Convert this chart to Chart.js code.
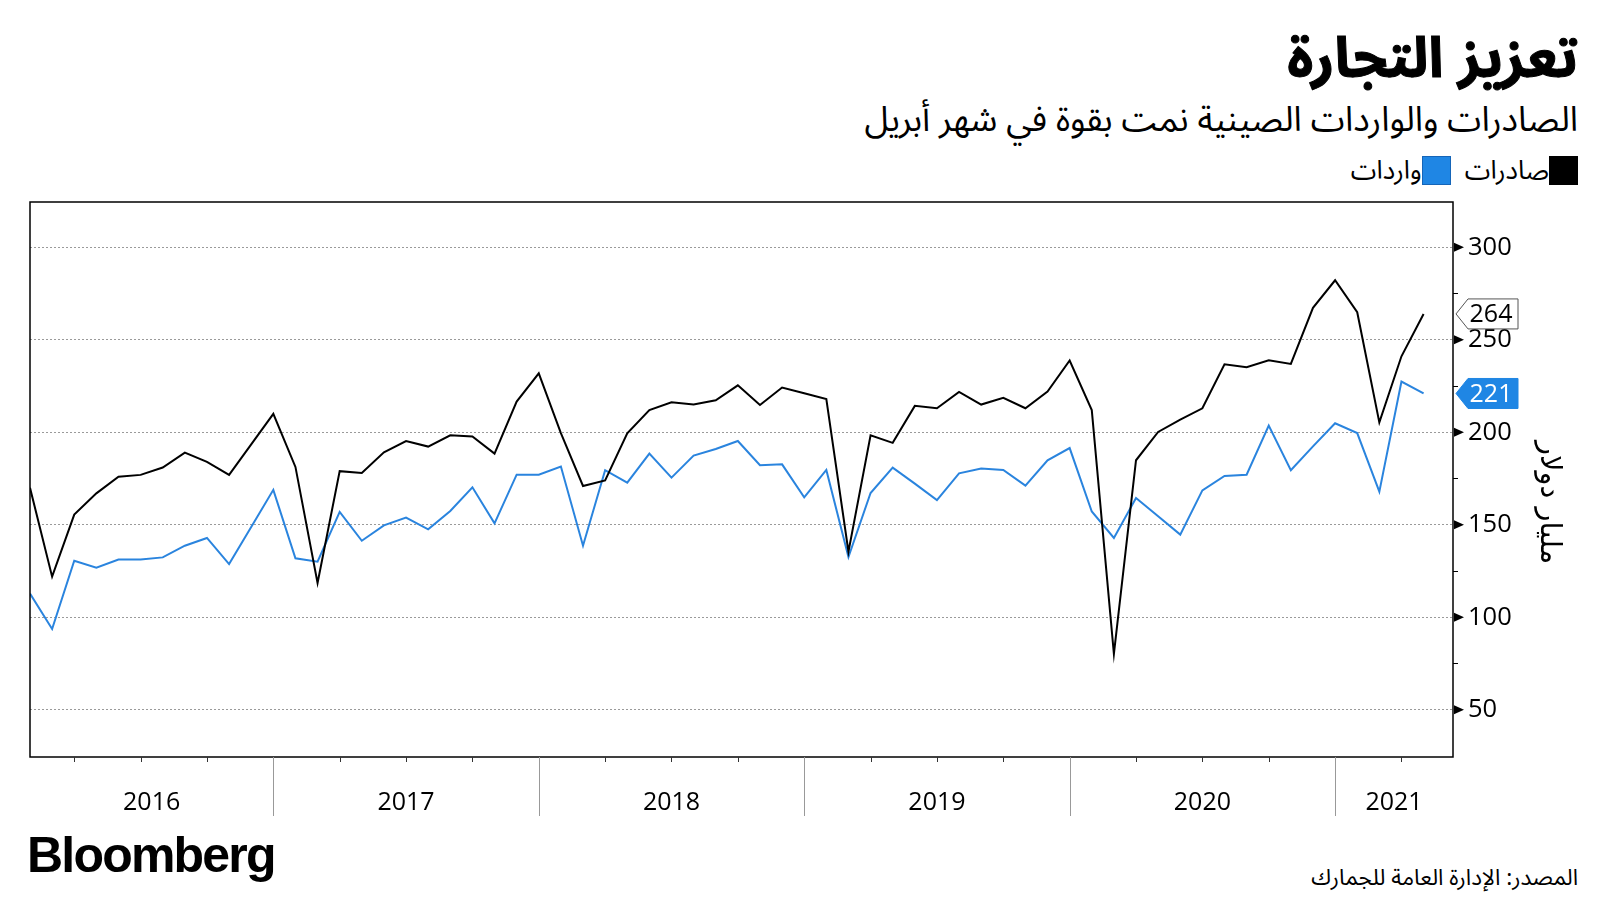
<!DOCTYPE html>
<html lang="ar">
<head>
<meta charset="utf-8">
<title>تعزيز التجارة</title>
<script src="https://cdn.jsdelivr.net/npm/chart.js@4.4.0/dist/chart.umd.min.js"></script>
<style>
  html, body { margin: 0; padding: 0; background: #fff; width: 1600px; height: 900px; overflow: hidden; }
  body { position: relative; font-family: "Noto Sans Arabic", "DejaVu Sans", sans-serif; color: #000; }
  .title { position: absolute; right: 22px; top: 0px; font-size: 56px; font-weight: 700; direction: rtl; white-space: nowrap; -webkit-text-stroke: 1px #000; }
  .subtitle { position: absolute; right: 22px; top: 84px; font-size: 34.5px; direction: rtl; white-space: nowrap; }
  .legend { position: absolute; right: 22px; top: 143px; direction: rtl; display: flex; align-items: center; font-size: 26px; white-space: nowrap; }
  .legend .sw { display: inline-block; width: 29px; height: 29px; box-sizing: border-box; }
  .legend .item { display: flex; align-items: center; margin-left: 14px; }
  #wrap { position: absolute; left: 0; top: 172px; width: 1600px; height: 645px; }
  .logo { position: absolute; left: 27px; top: 826px; font-family: "Liberation Sans", Arial, sans-serif; font-weight: 700; font-size: 50px; letter-spacing: -1.8px; }
  .source { position: absolute; right: 22px; top: 854px; font-size: 22.5px; direction: rtl; white-space: nowrap; }
</style>
</head>
<body>
<div class="title">تعزيز التجارة</div>
<div class="subtitle">الصادرات والواردات الصينية نمت بقوة في شهر أبريل</div>
<div class="legend">
  <span class="item"><span class="sw" style="background:#000"></span><span>صادرات</span></span>
  <span class="item"><span class="sw" style="background:#1f86e4;border:1px solid #1565b8"></span><span>واردات</span></span>
</div>
<div id="wrap"><canvas id="chart"></canvas></div>
<div class="logo">Bloomberg</div>
<div class="source">المصدر: الإدارة العامة للجمارك</div>

<script>
// monthly data, Jan 2016 .. Apr 2021 (billion dollars)
const months = [];
for (let y = 2016; y <= 2021; y++) {
  for (let m = 1; m <= 12; m++) {
    if (y === 2021 && m > 4) break;
    months.push(y + "-" + String(m).padStart(2, "0"));
  }
}

const exportsData = [
  170, 122, 155.5, 167, 176, 177, 181, 189, 184, 177, 193.5, 210,
  181.3, 118.6, 179, 178, 189.2, 195.3, 192.3, 198.4, 197.8, 188.5, 216.6, 231.9,
  199.6, 171, 174, 199.5, 212, 216.2, 215, 217.3, 225.4, 214.8, 224.2, 221.1,
  218, 135.5, 198.4, 194.3, 214.3, 213, 221.8, 215, 218.6, 213, 222, 238.8,
  212, 80.2, 184.9, 200.2, 206.9, 213, 236.8, 235.2, 238.9, 237, 267.3, 282.2,
  264.9, 205.4, 241.1, 264
];

const importsData = [
  112.8, 93.7, 130.6, 126.8, 131.2, 131.2, 132.4, 138.7, 142.9, 128.8, 148.8, 168.9,
  131.9, 130.1, 157, 141.4, 149.7, 153.9, 147.6, 157.5, 170.3, 150.8, 177.1, 177.1,
  181.5, 138.7, 179.5, 172.8, 188.5, 175.5, 187.4, 191, 195.3, 182.2, 182.7, 164.9,
  179.7, 132.6, 167.2, 180.9, 172.3, 163.4, 177.8, 180.4, 179.7, 171.2, 184.9, 191.5,
  157.2, 142.9, 164.5, 154.6, 144.7, 168.6, 176.4, 177.1, 203.6, 179.5, 192.4, 204.9,
  199.6, 167.9, 227.4, 221
];

const yearLabels = ["2016", "2017", "2018", "2019", "2020", "2021"];
const yTicks = [50, 75, 100, 125, 150, 175, 200, 225, 250, 275, 300];
const yTitle = "مليار دولار";

const exportColor = "#000000";
const importColor = "#2a84de";
const labelBlue = "#1f86e4";

const xMax = months.length - 1 + 1.33;
const yMin = 24.5;
const yMax = 324.5;

// year label sits in the middle of the visible part of each year
const yearCenters = yearLabels.map((yr, k) => {
  const start = Math.max(0, 12 * k - 1);
  const end = Math.min(xMax, 12 * k + 11);
  return (start + end) / 2;
});

const toPoints = (arr) => arr.map((v, i) => ({ x: i, y: v }));

const decor = {
  id: "decor",
  afterDraw(chart) {
    const { ctx, chartArea: a, scales: { x, y } } = chart;
    ctx.save();

    // frame
    ctx.strokeStyle = "#000";
    ctx.lineWidth = 1.5;
    ctx.strokeRect(a.left, a.top, a.right - a.left, a.bottom - a.top);

    // quarter ticks and year dividers under the plot
    for (let i = 2; i < months.length; i += 3) {
      const px = Math.round(x.getPixelForValue(i)) + 0.5;
      ctx.beginPath();
      ctx.lineWidth = 1;
      if (i % 12 === 11) {
        ctx.strokeStyle = "#999";
        ctx.moveTo(px, a.bottom);
        ctx.lineTo(px, a.bottom + 59);
      } else {
        ctx.strokeStyle = "#333";
        ctx.moveTo(px, a.bottom);
        ctx.lineTo(px, a.bottom + 5);
      }
      ctx.stroke();
    }

    // little arrows at the major y ticks
    ctx.fillStyle = "#000";
    yTicks.filter((t) => t % 50 === 0).forEach((t) => {
      const py = y.getPixelForValue(t);
      ctx.beginPath();
      ctx.moveTo(a.right + 1, py - 4.5);
      ctx.lineTo(a.right + 11, py);
      ctx.lineTo(a.right + 1, py + 4.5);
      ctx.closePath();
      ctx.fill();
    });

    // axis title (rotated, reads top to bottom)
    ctx.save();
    ctx.translate(a.right + 96, y.getPixelForValue(162));
    ctx.rotate(Math.PI / 2);
    ctx.fillStyle = "#000";
    ctx.font = "29px 'DejaVu Sans', sans-serif";
    ctx.textAlign = "center";
    ctx.textBaseline = "middle";
    ctx.fillText(yTitle, 0, 0);
    ctx.restore();

    // last value tags
    const tag = (value, fill, stroke, textColor) => {
      const cy = y.getPixelForValue(value);
      const tip = a.right + 3;
      const l = a.right + 15;
      const r = a.right + 65;
      const h = 15;
      ctx.beginPath();
      ctx.moveTo(tip, cy);
      ctx.lineTo(l, cy - h);
      ctx.lineTo(r, cy - h);
      ctx.lineTo(r, cy + h);
      ctx.lineTo(l, cy + h);
      ctx.closePath();
      ctx.fillStyle = fill;
      ctx.fill();
      ctx.strokeStyle = stroke;
      ctx.lineWidth = 1;
      ctx.stroke();
      ctx.fillStyle = textColor;
      ctx.font = "25px 'Open Sans', sans-serif";
      ctx.textAlign = "center";
      ctx.textBaseline = "middle";
      ctx.fillText(String(Math.round(value)), (l + r) / 2 - 2, cy + 1);
    };
    tag(exportsData[exportsData.length - 1], "#fff", "#555", "#000");
    tag(importsData[importsData.length - 1], labelBlue, labelBlue, "#fff");

    ctx.restore();
  }
};

const ctx = document.getElementById("chart").getContext("2d");

new Chart(ctx, {
  type: "line",
  data: {
    datasets: [
      {
        label: "صادرات",
        data: toPoints(exportsData),
        borderColor: exportColor,
        borderWidth: 2,
        pointRadius: 0,
        tension: 0
      },
      {
        label: "واردات",
        data: toPoints(importsData),
        borderColor: importColor,
        borderWidth: 2,
        pointRadius: 0,
        tension: 0
      }
    ]
  },
  options: {
    responsive: true,
    maintainAspectRatio: false,
    animation: false,
    layout: { padding: { top: 30, left: 30, right: 40, bottom: 0 } },
    plugins: {
      legend: { display: false },
      tooltip: { enabled: false }
    },
    scales: {
      x: {
        type: "linear",
        min: 0,
        max: xMax,
        afterBuildTicks: (scale) => {
          scale.ticks = yearCenters.map((v) => ({ value: v }));
        },
        afterFit: (scale) => {
          scale.height = 60;
        },
        grid: { display: false, drawTicks: false },
        border: { display: false },
        ticks: {
          autoSkip: false,
          maxRotation: 0,
          padding: 31,
          color: "#000",
          font: { family: "'Open Sans', sans-serif", size: 25 },
          callback: (value, index) => yearLabels[index]
        }
      },
      y: {
        type: "linear",
        position: "right",
        min: yMin,
        max: yMax,
        afterBuildTicks: (scale) => {
          scale.ticks = yTicks.map((v) => ({ value: v }));
        },
        afterFit: (scale) => {
          scale.width = 107;
        },
        grid: {
          color: (c) => (c.tick && c.tick.value % 50 === 0 ? "#9a9a9a" : "rgba(0,0,0,0)"),
          lineWidth: 1,
          drawTicks: true,
          tickLength: 5,
          tickColor: (c) => (c.tick && c.tick.value % 50 === 0 ? "rgba(0,0,0,0)" : "#000")
        },
        border: { display: false, dash: [2, 2] },
        ticks: {
          autoSkip: false,
          padding: 10,
          color: "#000",
          font: { family: "'Open Sans', sans-serif", size: 25.5 },
          callback: (value) => (value % 50 === 0 ? String(value) : "")
        }
      }
    }
  },
  plugins: [decor]
});
</script>
</body>
</html>
